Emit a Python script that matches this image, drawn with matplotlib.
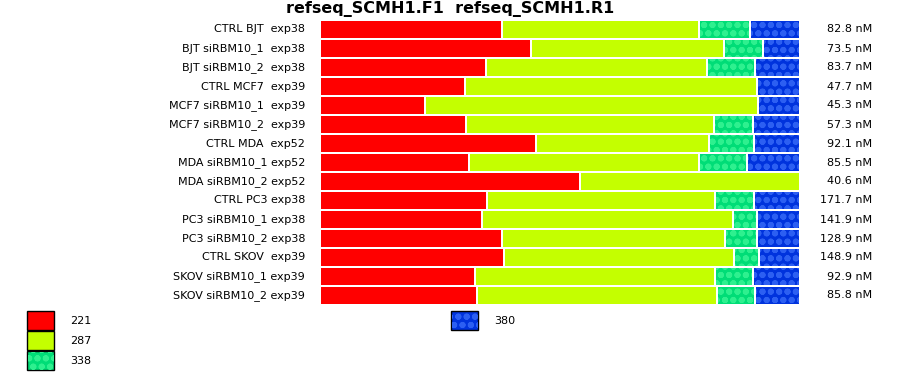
import numpy as np
import matplotlib
matplotlib.use("Agg")
import matplotlib.pyplot as plt
from matplotlib.patches import Rectangle

# sample labels (top to bottom)
samples = [
    "CTRL BJT  exp38", "BJT siRBM10_1  exp38", "BJT siRBM10_2  exp38",
    "CTRL MCF7  exp39", "MCF7 siRBM10_1  exp39", "MCF7 siRBM10_2  exp39",
    "CTRL MDA  exp52", "MDA siRBM10_1 exp52", "MDA siRBM10_2 exp52",
    "CTRL PC3 exp38", "PC3 siRBM10_1 exp38", "PC3 siRBM10_2 exp38",
    "CTRL SKOV  exp39", "SKOV siRBM10_1 exp39", "SKOV siRBM10_2 exp39",
]
concentrations = ["82.8 nM", "73.5 nM", "83.7 nM", "47.7 nM", "45.3 nM", "57.3 nM",
                  "92.1 nM", "85.5 nM", "40.6 nM", "171.7 nM", "141.9 nM", "128.9 nM",
                  "148.9 nM", "92.9 nM", "85.8 nM"]

# percentage of each fragment size per sample
frac_221 = [37.9, 44.0, 34.6, 30.2, 21.9, 30.4, 45.0, 31.0, 54.2, 34.8, 33.7, 37.9, 38.3, 32.3, 32.7]
frac_287 = [41.0, 40.2, 46.0, 60.8, 69.4, 51.7, 36.0, 47.9, 45.8, 47.5, 52.3, 46.5, 47.9, 50.0, 50.0]
frac_338 = [10.6, 8.1, 10.0, 0.0, 0.0, 8.1, 9.4, 10.0, 0.0, 8.1, 5.0, 6.7, 5.2, 7.9, 7.9]
frac_380 = [10.5, 7.7, 9.4, 9.0, 8.7, 9.8, 9.6, 11.1, 0.0, 9.6, 9.0, 8.9, 8.6, 9.8, 9.4]

sizes = ["221", "287", "338", "380"]
fills = ["#ff0000", "#c4ff00", "#00dd77", "#0033dd"]
hatch_cols = [None, None, "#2ef08f", "#2c5ff2"]
HATCH = "oo"

plt.rcParams["hatch.linewidth"] = 2.0

fig = plt.figure(figsize=(9, 3.75), dpi=100)
# bar area in pixels: x 321..803, y 20..305
ax = fig.add_axes([321 / 900, 1 - 305 / 375, 482 / 900, 285 / 375])
ax.set_xlim(0, 100.4)
ax.set_ylim(len(samples) - 0.5, -0.5)
ax.axis("off")

gap = 100.4 / 482 * 2
bar_h = 17 / 19
ypos = np.arange(len(samples))
left = np.zeros(len(samples))
for vals, fc, hc in zip([frac_221, frac_287, frac_338, frac_380], fills, hatch_cols):
    vals = np.array(vals)
    for y, l, v in zip(ypos, left, vals):
        if v <= 0:
            continue
        ax.barh(y, v - gap, left=l, height=bar_h, color=fc, linewidth=0)
        if hc:
            ax.barh(y, v - gap, left=l, height=bar_h, facecolor="none",
                    edgecolor=hc, linewidth=0, hatch=HATCH)
    left += vals

# labels
for y, name, conc in zip(ypos, samples, concentrations):
    fy = 1 - (29.5 + 19 * y) / 375
    fig.text(305 / 900, fy, name, ha="right", va="center", fontsize=8)
    fig.text(872 / 900, fy, conc, ha="right", va="center", fontsize=8)

fig.text(450 / 900, 1 - 9 / 375, "refseq_SCMH1.F1  refseq_SCMH1.R1",
         ha="center", va="center", fontsize=11.5, fontweight="bold")

# legend boxes
legend_pos = [(27, 311), (27, 331), (27, 351), (451, 311)]
for (px, py), lab, fc, hc in zip(legend_pos, sizes, fills, hatch_cols):
    r = Rectangle((px / 900, 1 - (py + 19) / 375), 27 / 900, 19 / 375,
                  transform=fig.transFigure, facecolor=fc, edgecolor="black", linewidth=1)
    fig.add_artist(r)
    if hc:
        fig.add_artist(Rectangle((px / 900 + 0.001, 1 - (py + 18.5) / 375), 26 / 900, 18 / 375,
                                 transform=fig.transFigure, facecolor="none",
                                 edgecolor=hc, linewidth=0, hatch=HATCH))
    fig.text((px + 43) / 900, 1 - (py + 10) / 375, lab, ha="left", va="center", fontsize=8)

fig.savefig("out.png", dpi=100)
